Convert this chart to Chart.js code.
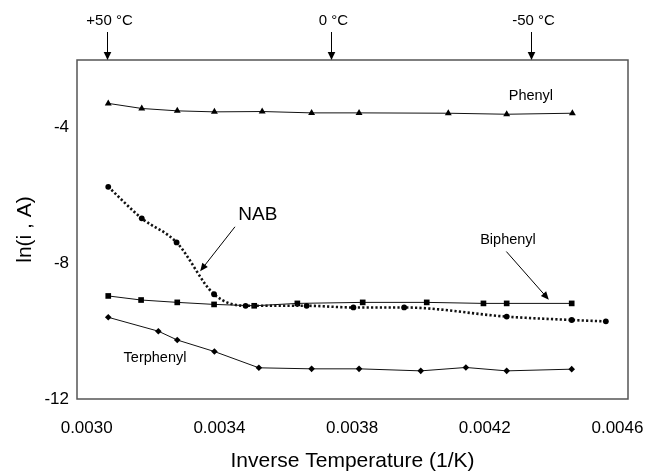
<!DOCTYPE html>
<html>
<head>
<meta charset="utf-8">
<script src="https://cdn.jsdelivr.net/npm/chart.js@4/dist/chart.umd.min.js"></script>
<style>
  html, body { margin: 0; padding: 0; background: #fff; }
  #wrap { width: 645px; height: 474px; }
</style>
</head>
<body>
<div id="wrap"><canvas id="c" width="645" height="474"></canvas></div>
<script>
// Inverse temperature (1/K) and ln(i, A) for each compound
const phenylX    = [0.003065, 0.003166, 0.003273, 0.003385, 0.003529, 0.003678, 0.003821, 0.004090, 0.004266, 0.004464];
const phenylY    = [-3.28, -3.43, -3.50, -3.53, -3.52, -3.56, -3.56, -3.57, -3.60, -3.57];

const nabX       = [0.003065, 0.003166, 0.003271, 0.003384, 0.003479, 0.003663, 0.003804, 0.003957, 0.004266, 0.004462, 0.004565];
const nabY       = [-5.74, -6.67, -7.38, -8.91, -9.25, -9.25, -9.30, -9.30, -9.57, -9.67, -9.71];

const biphenylX  = [0.003065, 0.003164, 0.003273, 0.003384, 0.003505, 0.003635, 0.003832, 0.004025, 0.004196, 0.004266, 0.004462];
const biphenylY  = [-8.96, -9.08, -9.15, -9.21, -9.25, -9.18, -9.15, -9.15, -9.18, -9.18, -9.18];

const terphenylX = [0.003065, 0.003216, 0.003273, 0.003385, 0.003519, 0.003678, 0.003821, 0.004007, 0.004143, 0.004266, 0.004462];
const terphenylY = [-9.59, -10.00, -10.26, -10.60, -11.08, -11.11, -11.11, -11.17, -11.07, -11.17, -11.12];

// Axis ticks
const xTicks = [0.0030, 0.0034, 0.0038, 0.0042, 0.0046];
const yTicks = [-12, -8, -4];

// Temperature markers along the top edge
const tempLabels = ['+50 \u00B0C', '0 \u00B0C', '-50 \u00B0C'];
const tempX      = [0.003062, 0.003736, 0.004338];

const FONT = "'Liberation Sans', Arial, Helvetica, sans-serif";

function pts(xs, ys) { return xs.map((x, i) => ({ x: x, y: ys[i] })); }

// Series labels and pointer arrows placed in data coordinates
const notes = [
  { text: 'Phenyl',    x: 0.004339, y: -3.06, size: 14.5 },
  { text: 'NAB',       x: 0.003516, y: -6.57, size: 19 },
  { text: 'Biphenyl',  x: 0.004270, y: -7.30, size: 14.5 },
  { text: 'Terphenyl', x: 0.003206, y: -10.80, size: 14.5 }
];
const pointers = [
  { from: [0.003447, -6.92], to: [0.003342, -8.23] },
  { from: [0.004265, -7.65], to: [0.004393, -9.07] }
];

function arrowHead(ctx, x1, y1, x2, y2, len, half) {
  const a = Math.atan2(y2 - y1, x2 - x1);
  ctx.beginPath();
  ctx.moveTo(x2, y2);
  ctx.lineTo(x2 - len * Math.cos(a) + half * Math.sin(a), y2 - len * Math.sin(a) - half * Math.cos(a));
  ctx.lineTo(x2 - len * Math.cos(a) - half * Math.sin(a), y2 - len * Math.sin(a) + half * Math.cos(a));
  ctx.closePath();
  ctx.fill();
}

const decorations = {
  id: 'decorations',
  afterDatasetsDraw(chart) {
    const ctx = chart.ctx;
    const xs = chart.scales.x, ys = chart.scales.y;
    const area = chart.chartArea;
    ctx.save();

    // plot frame
    ctx.strokeStyle = '#555';
    ctx.lineWidth = 1.5;
    ctx.strokeRect(area.left, area.top, area.right - area.left, area.bottom - area.top);

    ctx.fillStyle = '#000';
    ctx.strokeStyle = '#000';
    ctx.textAlign = 'center';
    ctx.textBaseline = 'middle';

    // temperature markers
    ctx.font = '15px ' + FONT;
    ctx.lineWidth = 1;
    tempX.forEach((v, i) => {
      const px = Math.round(xs.getPixelForValue(v)) + 0.5;
      ctx.fillText(tempLabels[i], px + 2, 21);
      ctx.beginPath();
      ctx.moveTo(px, 32);
      ctx.lineTo(px, 52);
      ctx.stroke();
      arrowHead(ctx, px, 32, px, area.top, 8, 3.8);
    });

    // series labels
    notes.forEach(n => {
      ctx.font = n.size + 'px ' + FONT;
      ctx.fillText(n.text, xs.getPixelForValue(n.x), ys.getPixelForValue(n.y));
    });

    // pointer arrows
    ctx.lineWidth = 1;
    pointers.forEach(p => {
      const x1 = xs.getPixelForValue(p.from[0]), y1 = ys.getPixelForValue(p.from[1]);
      const x2 = xs.getPixelForValue(p.to[0]),   y2 = ys.getPixelForValue(p.to[1]);
      const a = Math.atan2(y2 - y1, x2 - x1);
      ctx.beginPath();
      ctx.moveTo(x1, y1);
      ctx.lineTo(x2 - 6 * Math.cos(a), y2 - 6 * Math.sin(a));
      ctx.stroke();
      arrowHead(ctx, x1, y1, x2, y2, 8, 3.5);
    });

    ctx.restore();
  }
};

const solid = { borderColor: '#111', borderWidth: 1, backgroundColor: '#000', pointBorderColor: '#000', pointBackgroundColor: '#000', pointBorderWidth: 0, showLine: true, tension: 0 };

new Chart(document.getElementById('c'), {
  type: 'scatter',
  data: {
    datasets: [
      Object.assign({}, solid, { label: 'NAB', data: pts(nabX, nabY), borderWidth: 2.6, borderDash: [2.2, 2.2], borderCapStyle: 'butt', cubicInterpolationMode: 'monotone', pointStyle: 'circle', pointRadius: 2.9 }),
      Object.assign({}, solid, { label: 'Phenyl', data: pts(phenylX, phenylY), pointStyle: 'triangle', pointRadius: 4 }),
      Object.assign({}, solid, { label: 'Biphenyl', data: pts(biphenylX, biphenylY), pointStyle: 'rect', pointRadius: 4 }),
      Object.assign({}, solid, { label: 'Terphenyl', data: pts(terphenylX, terphenylY), pointStyle: 'rectRot', pointRadius: 3.3 })
    ]
  },
  options: {
    responsive: false,
    animation: false,
    devicePixelRatio: 1,
    layout: { padding: { left: 13, top: 60, right: 17, bottom: 0 } },
    plugins: { legend: { display: false }, tooltip: { enabled: false } },
    elements: { point: { hoverRadius: 0 } },
    scales: {
      x: {
        type: 'linear',
        min: 0.0029708,
        max: 0.0046317,
        afterBuildTicks: s => { s.ticks = xTicks.map(v => ({ value: v })); },
        afterFit: s => { s.height = 75; s.paddingLeft = 0; s.paddingRight = 0; },
        grid: { display: false, drawTicks: false },
        border: { display: false },
        ticks: { color: '#000', padding: 19, maxRotation: 0, autoSkip: false, font: { family: FONT, size: 17 }, callback: v => v.toFixed(4) },
        title: { display: true, text: 'Inverse Temperature (1/K)', color: '#000', padding: { top: 0, bottom: 0 }, font: { family: FONT, size: 21 } }
      },
      y: {
        type: 'linear',
        min: -12,
        max: -2,
        afterBuildTicks: s => { s.ticks = yTicks.map(v => ({ value: v })); },
        afterFit: s => { s.width = 64; s.paddingTop = 0; s.paddingBottom = 0; },
        grid: { display: false, drawTicks: false },
        border: { display: false },
        ticks: { color: '#000', padding: 8, font: { family: FONT, size: 17 }, callback: v => String(v) },
        title: { display: true, text: 'ln(i , A)', color: '#000', padding: { top: 0, bottom: 0 }, font: { family: FONT, size: 21 } }
      }
    }
  },
  plugins: [decorations]
});
</script>
</body>
</html>
